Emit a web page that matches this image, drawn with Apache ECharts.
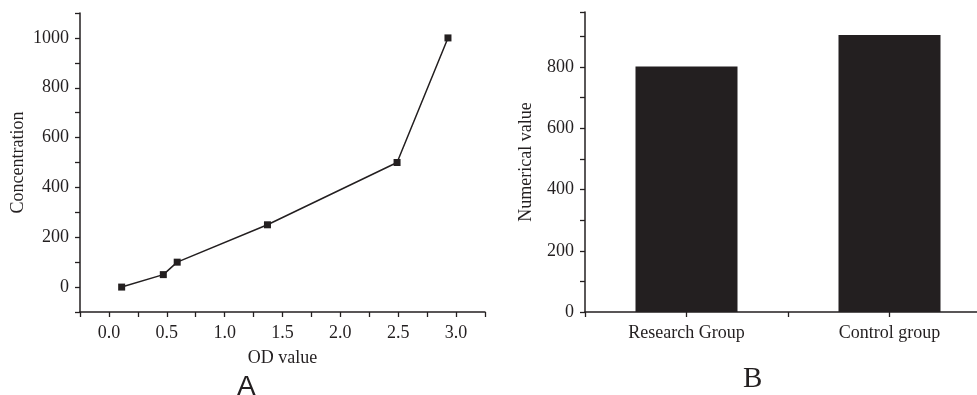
<!DOCTYPE html>
<html style="height: 100%">
<head>
    <meta charset="utf-8">
    <title>OD value / Numerical value</title>
    <script type="text/javascript" src="https://cdn.jsdelivr.net/npm/echarts@6/dist/echarts.min.js"></script>
</head>
<body style="height: 100%; margin: 0; background: #fff">
    <div id="container" style="width: 977px; height: 395px"></div>
    <script type="text/javascript">
        // 图A：标准曲线
        var odValues = [0.11, 0.47, 0.59, 1.37, 2.49, 2.93];
        var concentration = [0, 50, 100, 250, 500, 1000];
        // 图B：柱状图（x 位置 1 和 3）
        var groupNames = ['Research Group', 'Control group'];
        var groupPos = [1, 3];
        var groupValues = [802, 905];

        var ink = '#231f20';
        var serif = 'Liberation Serif';

        var lineData = [];
        for (var i = 0; i < odValues.length; i++) {
            lineData.push([odValues[i], concentration[i]]);
        }
        var barData = [];
        for (var j = 0; j < groupPos.length; j++) {
            barData.push([groupPos[j], groupValues[j]]);
        }

        var axisLine = { onZero: false, lineStyle: { color: ink, width: 1.5 } };
        var axisTick = { length: 5, lineStyle: { color: ink, width: 1.3 } };
        var labelStyle = { color: ink, fontFamily: serif, fontSize: 18 };

        var myChart = echarts.init(document.getElementById('container'));
        var option = {
            animation: false,
            title: [
                { text: 'A', left: 232, top: 368, textStyle: { fontFamily: 'Liberation Sans', fontWeight: 'normal', fontSize: 28, color: ink } },
                { text: 'B', left: 738, top: 360, textStyle: { fontFamily: serif, fontWeight: 'normal', fontSize: 29, color: ink } }
            ],
            // outerBoundsMode none：B 图的坐标轴超出画布右边
            grid: [
                { left: 80, top: 13, width: 405, height: 299, outerBoundsMode: 'none' },
                { left: 585, top: 12, width: 406, height: 300, outerBoundsMode: 'none' }
            ],
            xAxis: [
                {
                    gridIndex: 0,
                    type: 'value',
                    min: -0.25,
                    max: 3.25,
                    interval: 0.25,
                    name: 'OD value',
                    nameLocation: 'middle',
                    nameGap: 37,
                    nameTextStyle: labelStyle,
                    splitLine: { show: false },
                    axisLine: axisLine,
                    axisTick: axisTick,
                    axisLabel: {
                        margin: 12,
                        color: ink, fontFamily: serif, fontSize: 18,
                        formatter: function (v) {
                            var r = Math.round(v * 100);
                            return (r % 50 === 0 && v >= 0 && v <= 3) ? v.toFixed(1) : '';
                        }
                    }
                },
                {
                    gridIndex: 1,
                    type: 'value',
                    min: 0,
                    max: 4,
                    interval: 1,
                    splitLine: { show: false },
                    axisLine: axisLine,
                    axisTick: axisTick,
                    axisLabel: {
                        margin: 12,
                        color: ink, fontFamily: serif, fontSize: 18,
                        formatter: function (v) {
                            var k = groupPos.indexOf(v);
                            return k >= 0 ? groupNames[k] : '';
                        }
                    }
                }
            ],
            yAxis: [
                {
                    gridIndex: 0,
                    type: 'value',
                    min: -100,
                    max: 1100,
                    interval: 100,
                    name: 'Concentration',
                    nameLocation: 'middle',
                    nameGap: 53,
                    nameTextStyle: labelStyle,
                    splitLine: { show: false },
                    axisLine: axisLine,
                    axisTick: axisTick,
                    axisLabel: {
                        margin: 11,
                        color: ink, fontFamily: serif, fontSize: 18,
                        formatter: function (v) {
                            return (v % 200 === 0 && v >= 0 && v <= 1000) ? String(v) : '';
                        }
                    }
                },
                {
                    gridIndex: 1,
                    type: 'value',
                    min: 0,
                    max: 980,
                    interval: 100,
                    name: 'Numerical value',
                    nameLocation: 'middle',
                    nameGap: 50,
                    nameTextStyle: labelStyle,
                    splitLine: { show: false },
                    axisLine: axisLine,
                    axisTick: axisTick,
                    axisLabel: {
                        margin: 11,
                        color: ink, fontFamily: serif, fontSize: 18,
                        formatter: function (v) {
                            return (v % 200 === 0 && v <= 800) ? String(v) : '';
                        }
                    }
                }
            ],
            series: [
                {
                    type: 'line',
                    xAxisIndex: 0,
                    yAxisIndex: 0,
                    data: lineData,
                    symbol: 'rect',
                    symbolSize: 7,
                    itemStyle: { color: ink },
                    lineStyle: { color: ink, width: 1.5 }
                },
                {
                    type: 'bar',
                    xAxisIndex: 1,
                    yAxisIndex: 1,
                    data: barData,
                    barWidth: 102,
                    itemStyle: { color: ink }
                }
            ]
        };
        myChart.setOption(option);
    </script>
</body>
</html>
